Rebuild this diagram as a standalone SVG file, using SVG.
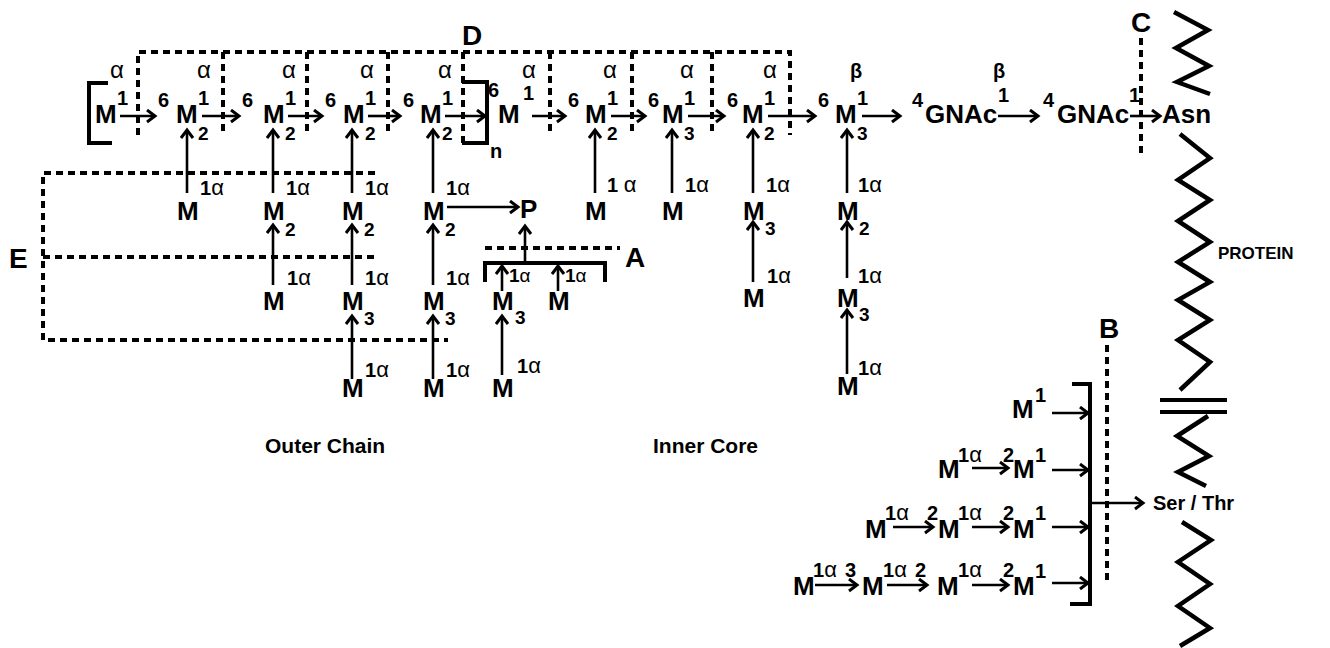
<svg xmlns="http://www.w3.org/2000/svg" width="1330" height="648" viewBox="0 0 1330 648">
<style>
text{font-family:"Liberation Sans",Arial,sans-serif;fill:#000}
.m{font-size:26px;font-weight:bold}
.d{font-size:20px;font-weight:bold}
.sb{font-size:19px;font-weight:bold}
.s{font-size:20px;font-weight:bold}
.a{font-size:24px;font-weight:normal}
.la{font-size:22px;font-weight:normal}
.big{font-size:28px;font-weight:bold}
.cap{font-size:21px;font-weight:bold}
.arr{stroke:#000;stroke-width:2.6;fill:none;marker-end:url(#ah)}
.br{stroke:#000;stroke-width:4;fill:none}
.dash{stroke:#000;stroke-width:4;stroke-dasharray:7 5;fill:none}
.zz{stroke:#000;stroke-width:4.5;fill:none;stroke-linejoin:miter}
</style>
<defs>
<marker id="ah" markerUnits="userSpaceOnUse" markerWidth="15" markerHeight="15" refX="11" refY="7.5" orient="auto">
<path d="M3,1.5 L11,7.5 L3,13.5" fill="none" stroke="#000" stroke-width="3"/>
</marker>
</defs>

<!-- dashed regions -->
<g id="regions">
<path class="dash" d="M138,135 V52 H790 V135"/>
<path class="dash" d="M223,52 V135 M307,52 V135 M388,52 V135 M463,52 V145 M550,52 V135 M632,52 V135 M712,52 V135"/>
<text class="big" x="462" y="45">D</text>
<path class="dash" d="M375,173 H43 V340 H448 M43,257 H375"/>
<text class="big" x="9" y="268">E</text>
<path class="dash" d="M485,248 H620"/>
<text class="big" x="625" y="267">A</text>
<path class="dash" d="M1141,38 V158"/>
<text class="big" x="1131" y="32">C</text>
<path class="dash" d="M1107,345 V585"/>
<text class="big" x="1099" y="338">B</text>
</g>

<!-- brackets -->
<g id="brackets">
<path class="br" d="M108,83 H89 V143 H112"/>
<path class="br" d="M462,82 H487 V143 H462"/>
<text class="s" x="490" y="158">n</text>
<path class="br" d="M485,282 V263 H605 V282"/>
<path class="br" d="M1072,384 H1090 V604 H1070"/>
</g>

<!-- connectors -->
<g id="connectors">
<path class="arr" d="M120,116 H155"/>
<path class="arr" d="M202,116 H239"/>
<path class="arr" d="M288,116 H322"/>
<path class="arr" d="M368,116 H400"/>
<path class="arr" d="M445,116 H485"/>
<path class="arr" d="M532,116 H565"/>
<path class="arr" d="M611,116 H645"/>
<path class="arr" d="M688,116 H724"/>
<path class="arr" d="M768,116 H815"/>
<path class="arr" d="M862,116 H900"/>
<path class="arr" d="M998,116 H1038"/>
<path class="arr" d="M1130,116 H1160"/>
<!-- vertical to main chain -->
<path class="arr" d="M187,193 V130"/>
<path class="arr" d="M273,193 V130"/>
<path class="arr" d="M352,193 V130"/>
<path class="arr" d="M433,193 V130"/>
<path class="arr" d="M595,193 V130"/>
<path class="arr" d="M672,193 V130"/>
<path class="arr" d="M753,193 V130"/>
<path class="arr" d="M847,193 V130"/>
<!-- second level -->
<path class="arr" d="M273,285 V225"/>
<path class="arr" d="M352,285 V225"/>
<path class="arr" d="M433,285 V225"/>
<path class="arr" d="M753,282 V222"/>
<path class="arr" d="M847,278 V222"/>
<path class="arr" d="M447,207 H518"/>
<path class="arr" d="M525,263 V226"/>
<path class="arr" d="M502,291 V266"/>
<path class="arr" d="M558,291 V266"/>
<!-- third level -->
<path class="arr" d="M352,379 V316"/>
<path class="arr" d="M433,379 V316"/>
<path class="arr" d="M502,375 V316"/>
<path class="arr" d="M847,374 V310"/>
<!-- O-linked -->
<path class="arr" d="M1052,413 H1088"/>
<path class="arr" d="M972,468 H1008"/>
<path class="arr" d="M1052,470 H1088"/>
<path class="arr" d="M893,527 H933"/>
<path class="arr" d="M972,527 H1008"/>
<path class="arr" d="M1052,527 H1088"/>
<path class="arr" d="M815,585 H857"/>
<path class="arr" d="M887,585 H927"/>
<path class="arr" d="M972,585 H1008"/>
<path class="arr" d="M1052,583 H1088"/>
<path class="arr" d="M1090,503 H1143"/>
</g>

<!-- main chain nodes -->
<g id="n-m0"><text class="m" x="95" y="123">M</text><text class="d" x="117" y="105">1</text><text class="a" x="110" y="78">α</text></g>
<g id="n-m1"><text class="d" x="158" y="107">6</text><text class="m" x="176" y="123">M</text><text class="d" x="198" y="105">1</text><text class="sb" x="198" y="140">2</text><text class="a" x="197" y="78">α</text></g>
<g id="n-m2"><text class="d" x="242" y="107">6</text><text class="m" x="263" y="123">M</text><text class="d" x="285" y="105">1</text><text class="sb" x="285" y="140">2</text><text class="a" x="282" y="78">α</text></g>
<g id="n-m3"><text class="d" x="325" y="107">6</text><text class="m" x="343" y="123">M</text><text class="d" x="365" y="105">1</text><text class="sb" x="365" y="140">2</text><text class="a" x="360" y="78">α</text></g>
<g id="n-m4"><text class="d" x="403" y="107">6</text><text class="m" x="420" y="123">M</text><text class="d" x="442" y="105">1</text><text class="sb" x="442" y="140">2</text><text class="a" x="438" y="78">α</text></g>
<g id="n-m5"><text class="d" x="488" y="97">6</text><text class="m" x="498" y="123">M</text><text class="d" x="523" y="100">1</text><text class="a" x="522" y="78">α</text></g>
<g id="n-m6"><text class="d" x="568" y="107">6</text><text class="m" x="585" y="123">M</text><text class="d" x="607" y="105">1</text><text class="sb" x="607" y="140">2</text><text class="a" x="603" y="78">α</text></g>
<g id="n-m7"><text class="d" x="648" y="107">6</text><text class="m" x="662" y="123">M</text><text class="d" x="684" y="105">1</text><text class="sb" x="684" y="140">3</text><text class="a" x="680" y="78">α</text></g>
<g id="n-m8"><text class="d" x="727" y="107">6</text><text class="m" x="742" y="123">M</text><text class="d" x="764" y="105">1</text><text class="sb" x="764" y="140">2</text><text class="a" x="763" y="78">α</text></g>
<g id="n-m9"><text class="d" x="818" y="107">6</text><text class="m" x="835" y="123">M</text><text class="d" x="857" y="105">1</text><text class="sb" x="857" y="140">3</text><text class="d" x="850" y="78">β</text></g>
<g id="n-g1"><text class="d" x="912" y="107">4</text><text class="m" x="925" y="123">GNAc</text><text class="d" x="998" y="102">1</text><text class="d" x="993" y="78">β</text></g>
<g id="n-g2"><text class="d" x="1043" y="107">4</text><text class="m" x="1057" y="123">GNAc</text><text class="d" x="1129" y="102">1</text></g>
<g id="n-asn"><text class="m" x="1162" y="123">Asn</text></g>

<!-- branches -->
<g id="n-colA"><text class="s" x="200" y="195">1<tspan class="la">α</tspan></text><text class="m" x="177" y="220">M</text></g>
<g id="n-colB">
<text class="s" x="286" y="195">1<tspan class="la">α</tspan></text><text class="m" x="263" y="220">M</text><text class="sb" x="285" y="236">2</text>
<text class="s" x="287" y="285">1<tspan class="la">α</tspan></text><text class="m" x="263" y="310">M</text>
</g>
<g id="n-colC">
<text class="s" x="365" y="195">1<tspan class="la">α</tspan></text><text class="m" x="342" y="220">M</text><text class="sb" x="364" y="236">2</text>
<text class="s" x="365" y="285">1<tspan class="la">α</tspan></text><text class="m" x="342" y="310">M</text><text class="sb" x="364" y="325">3</text>
<text class="s" x="365" y="377">1<tspan class="la">α</tspan></text><text class="m" x="342" y="397">M</text>
</g>
<g id="n-colD">
<text class="s" x="446" y="195">1<tspan class="la">α</tspan></text><text class="m" x="423" y="220">M</text><text class="sb" x="445" y="236">2</text>
<text class="s" x="446" y="285">1<tspan class="la">α</tspan></text><text class="m" x="423" y="310">M</text><text class="sb" x="445" y="325">3</text>
<text class="s" x="446" y="377">1<tspan class="la">α</tspan></text><text class="m" x="423" y="397">M</text>
</g>
<g id="n-P"><text class="m" x="520" y="218">P</text></g>
<g id="n-colA2">
<text class="sb" x="509" y="282">1<tspan class="la" style="font-size:19px">α</tspan></text>
<text class="sb" x="565" y="282">1<tspan class="la" style="font-size:19px">α</tspan></text>
<text class="m" x="492" y="310">M</text><text class="sb" x="515" y="324">3</text>
<text class="m" x="548" y="310">M</text>
<text class="s" x="517" y="373">1<tspan class="la">α</tspan></text><text class="m" x="492" y="397">M</text>
</g>
<g id="n-colE"><text class="s" x="607" y="192">1 <tspan class="la">α</tspan></text><text class="m" x="585" y="220">M</text></g>
<g id="n-colF"><text class="s" x="685" y="192">1<tspan class="la">α</tspan></text><text class="m" x="662" y="220">M</text></g>
<g id="n-colG">
<text class="s" x="766" y="192">1<tspan class="la">α</tspan></text><text class="m" x="743" y="220">M</text><text class="sb" x="765" y="235">3</text>
<text class="s" x="767" y="283">1<tspan class="la">α</tspan></text><text class="m" x="743" y="307">M</text>
</g>
<g id="n-colH">
<text class="s" x="858" y="192">1<tspan class="la">α</tspan></text><text class="m" x="837" y="220">M</text><text class="sb" x="859" y="235">2</text>
<text class="s" x="858" y="283">1<tspan class="la">α</tspan></text><text class="m" x="837" y="307">M</text><text class="sb" x="859" y="321">3</text>
<text class="s" x="858" y="375">1<tspan class="la">α</tspan></text><text class="m" x="837" y="395">M</text>
</g>

<!-- O-linked chains -->
<g id="n-o1"><text class="m" x="1012" y="418">M</text><text class="d" x="1035" y="402">1</text></g>
<g id="n-o2"><text class="m" x="938" y="478">M</text><text class="s" x="958" y="462">1<tspan class="la">α</tspan></text><text class="d" x="1003" y="462">2</text><text class="m" x="1013" y="478">M</text><text class="d" x="1035" y="462">1</text></g>
<g id="n-o3"><text class="m" x="865" y="538">M</text><text class="s" x="885" y="520">1<tspan class="la">α</tspan></text><text class="d" x="927" y="520">2</text><text class="m" x="938" y="538">M</text><text class="s" x="958" y="520">1<tspan class="la">α</tspan></text><text class="d" x="1003" y="520">2</text><text class="m" x="1013" y="538">M</text><text class="d" x="1035" y="520">1</text></g>
<g id="n-o4"><text class="m" x="793" y="595">M</text><text class="s" x="813" y="577">1<tspan class="la">α</tspan></text><text class="d" x="845" y="577">3</text><text class="m" x="862" y="595">M</text><text class="s" x="883" y="577">1<tspan class="la">α</tspan></text><text class="d" x="915" y="577">2</text><text class="m" x="937" y="595">M</text><text class="s" x="958" y="577">1<tspan class="la">α</tspan></text><text class="d" x="1003" y="577">2</text><text class="m" x="1013" y="595">M</text><text class="d" x="1035" y="578">1</text></g>
<g id="n-serthr"><text class="cap" x="1153" y="510" style="font-size:20px">Ser / Thr</text></g>

<!-- protein -->
<g id="protein">
<polyline class="zz" points="1174,12 1208,30 1176,48 1209,66 1177,82 1210,94"/>
<polyline class="zz" points="1180,134 1210,158 1178,180 1210,200 1178,221 1210,242 1178,262 1210,282 1178,300 1210,320 1178,340 1210,362 1180,390"/>
<path class="br" d="M1160,400 H1227 M1160,412 H1227"/>
<polyline class="zz" points="1208,416 1177,436 1209,456 1178,472 1206,486"/>
<polyline class="zz" points="1182,522 1211,540 1178,562 1210,584 1178,606 1210,628 1180,646"/>
<text class="cap" x="1218" y="259" style="font-size:17px">PROTEIN</text>
</g>

<!-- captions -->
<g id="captions">
<text class="cap" x="265" y="453">Outer Chain</text>
<text class="cap" x="653" y="453">Inner Core</text>
</g>
</svg>
